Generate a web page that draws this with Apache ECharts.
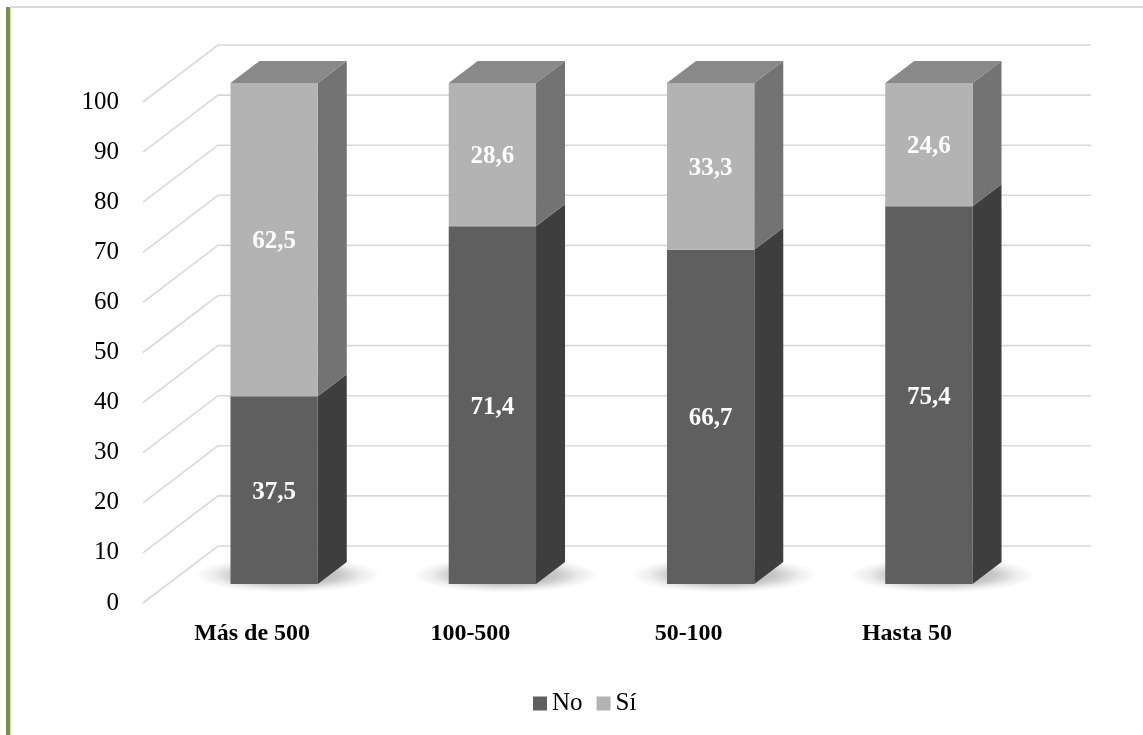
<!DOCTYPE html>
<html>
<head>
<meta charset="utf-8">
<script src="https://cdn.jsdelivr.net/npm/echarts@6/dist/echarts.min.js"></script>
<style>
  html, body { margin: 0; padding: 0; background: #ffffff; }
  #chart { width: 1143px; height: 735px; }
</style>
</head>
<body>
<div id="chart"></div>
<script>
// Company size groups and the share (%) answering No / Sí
const categories = ['Más de 500', '100-500', '50-100', 'Hasta 50'];
const noValues = [37.5, 71.4, 66.7, 75.4];
const siValues = [62.5, 28.6, 33.3, 24.6];
const yTicks = [0, 10, 20, 30, 40, 50, 60, 70, 80, 90, 100];

const FONT = '"Liberation Serif", "Times New Roman", serif';

// Pseudo-3D projection offsets (pixels) from the axis plane
const FRONT = [22, -19];   // front face of the columns
const DEPTH = [29, -22];   // column depth
const WALL = [75, -57];    // back wall

const COLORS = {
  no:  { front: '#5f5f5f', side: '#3e3e3e', top: '#6e6e6e' },
  si:  { front: '#b3b3b3', side: '#737373', top: '#898989' }
};

function fmt(v) { return String(v).replace('.', ','); }

// Column segment drawn as front, side and top faces
function makeColumn(palette, drawTop, drawShadow) {
  return function (params, api) {
    const cat = api.value(0);
    const base = api.value(1);
    const top = api.value(2);
    const val = api.value(3);
    const pb = api.coord([cat, base]);
    const pt = api.coord([cat, top]);
    const band = api.size([1, 0])[0];
    const w = band * 0.4;
    const xl = pb[0] - w / 2 + FRONT[0];
    const xr = xl + w;
    const yb = pb[1] + FRONT[1];
    const yt = pt[1] + FRONT[1];
    const dx = DEPTH[0], dy = DEPTH[1];
    const children = [];
    if (drawShadow) {
      // soft elliptical floor shadow around the column foot
      const left = xl - 36, right = xr + dx + 34;
      const rx = (right - left) / 2;
      children.push({
        type: 'circle',
        x: (left + right) / 2,
        y: yb + dy / 2 + 2,
        scaleY: 0.19,
        shape: { cx: 0, cy: 0, r: rx },
        style: {
          fill: {
            type: 'radial', x: 0.5, y: 0.5, r: 0.5,
            colorStops: [
              { offset: 0, color: 'rgba(0,0,0,0.34)' },
              { offset: 0.55, color: 'rgba(0,0,0,0.22)' },
              { offset: 0.8, color: 'rgba(0,0,0,0.07)' },
              { offset: 1, color: 'rgba(0,0,0,0)' }
            ]
          }
        },
        silent: true
      });
    }
    children.push({
      type: 'polygon',
      shape: { points: [[xr, yb], [xr + dx, yb + dy], [xr + dx, yt + dy], [xr, yt]] },
      style: { fill: palette.side }
    });
    if (drawTop) {
      children.push({
        type: 'polygon',
        shape: { points: [[xl, yt], [xr, yt], [xr + dx, yt + dy], [xl + dx, yt + dy]] },
        style: { fill: palette.top }
      });
    }
    children.push({
      type: 'rect',
      shape: { x: xl, y: yt, width: w, height: yb - yt },
      style: { fill: palette.front }
    });
    children.push({
      type: 'text',
      x: (xl + xr) / 2,
      y: (yt + yb) / 2 + 2,
      style: {
        text: fmt(val),
        fill: '#ffffff',
        font: 'bold 25px ' + FONT,
        align: 'center',
        verticalAlign: 'middle'
      }
    });
    return { type: 'group', children: children };
  };
}

// Back-wall gridlines: a diagonal on the side wall then a horizontal on the back wall
function renderGridLine(params, api) {
  const cs = params.coordSys;
  const y = api.coord([0, api.value(1)])[1];
  const x0 = cs.x, x1 = cs.x + cs.width;
  return {
    type: 'polyline',
    shape: { points: [[x0, y], [x0 + WALL[0], y + WALL[1]], [x1 + WALL[0], y + WALL[1]]] },
    style: { stroke: '#d9d9d9', lineWidth: 1.6, fill: null },
    silent: true
  };
}

const noData = categories.map((c, i) => [i, 0, noValues[i], noValues[i]]);
const siData = categories.map((c, i) => [i, noValues[i], noValues[i] + siValues[i], siValues[i]]);

const chart = echarts.init(document.getElementById('chart'), null, { renderer: 'canvas' });
chart.setOption({
  backgroundColor: '#ffffff',
  animation: false,
  grid: { left: 143, right: 127, top: 102, bottom: 132 },
  xAxis: {
    type: 'category',
    data: categories,
    axisLine: { show: false },
    axisTick: { show: false },
    splitLine: { show: false },
    axisLabel: {
      margin: 19,
      color: '#000000',
      fontFamily: FONT,
      fontSize: 24,
      fontWeight: 'bold'
    }
  },
  yAxis: {
    type: 'value',
    min: 0,
    max: 100,
    interval: 10,
    axisLine: { show: false },
    axisTick: { show: false },
    splitLine: { show: false },
    axisLabel: {
      margin: 24,
      color: '#000000',
      fontFamily: FONT,
      fontSize: 25
    }
  },
  legend: {
    data: ['No', 'Sí'],
    left: 528,
    top: 686,
    icon: 'rect',
    itemWidth: 14,
    itemHeight: 14,
    itemGap: 14,
    textStyle: { color: '#000000', fontFamily: FONT, fontSize: 25 }
  },
  graphic: [
    { type: 'rect', left: 6, top: 7, shape: { width: 4, height: 728 }, style: { fill: '#77933c' }, silent: true },
    { type: 'rect', left: 10, top: 7, shape: { width: 1, height: 728 }, style: { fill: '#d9d9d9' }, silent: true },
    { type: 'rect', left: 10, top: 6, shape: { width: 1133, height: 2 }, style: { fill: '#d9d9d9' }, silent: true }
  ],
  series: [
    {
      name: 'grid',
      type: 'custom',
      renderItem: renderGridLine,
      data: yTicks.map(v => [0, v]),
      encode: { x: 0, y: 1 },
      silent: true,
      z: 1
    },
    {
      name: 'No',
      type: 'custom',
      renderItem: makeColumn(COLORS.no, false, true),
      data: noData,
      encode: { x: 0, y: [1, 2] },
      itemStyle: { color: COLORS.no.front },
      z: 2
    },
    {
      name: 'Sí',
      type: 'custom',
      renderItem: makeColumn(COLORS.si, true, false),
      data: siData,
      encode: { x: 0, y: [1, 2] },
      itemStyle: { color: COLORS.si.front },
      z: 3
    }
  ]
});
</script>
</body>
</html>
